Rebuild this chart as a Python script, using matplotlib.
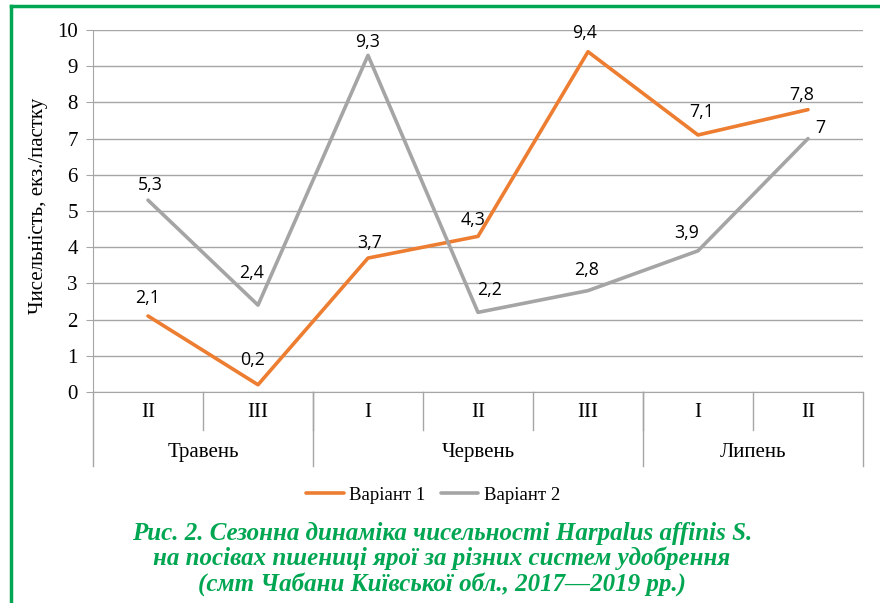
import matplotlib.pyplot as plt

# data
decades = ['II', 'III', 'I', 'II', 'III', 'I', 'II']
months = ['Травень', 'Червень', 'Липень']
month_span = [2, 3, 2]
variant_1 = [2.1, 0.2, 3.7, 4.3, 9.4, 7.1, 7.8]
variant_2 = [5.3, 2.4, 9.3, 2.2, 2.8, 3.9, 7.0]
labels_1 = ['2,1', '0,2', '3,7', '4,3', '9,4', '7,1', '7,8']
labels_2 = ['5,3', '2,4', '9,3', '2,2', '2,8', '3,9', '7']
caption = ('Рис. 2. Сезонна динаміка чисельності Harpalus affinis S.\n'
           'на посівах пшениці ярої за різних систем удобрення\n'
           '(смт Чабани Київської обл., 2017—2019 рр.)')

# label placement, pixels from the marker (x right, y up)
offs_1 = [(0, 18), (-5, 25), (2, 15), (-5, 16), (-3, 19), (4, 23), (-6, 15)]
offs_2 = [(2, 15), (-6, 32), (0, 13), (12, 22), (-1, 21), (-11, 18), (12, 11)]

orange = '#ED7D31'
grey = '#A5A5A5'
green = '#00A651'
axis_col = '#A6A6A6'
serif = 'Liberation Serif'

fig = plt.figure(figsize=(8.8, 6.03), dpi=100)
W, H = 880, 603
ax = fig.add_axes([93 / W, (H - 392) / H, 770 / W, 362 / H])

x = [i + 0.5 for i in range(len(decades))]
ax.plot(x, variant_1, color=orange, lw=2.6, label='Варіант 1', solid_capstyle='round')
ax.plot(x, variant_2, color=grey, lw=2.6, label='Варіант 2', solid_capstyle='round')

for ys, labs, offs in [(variant_1, labels_1, offs_1), (variant_2, labels_2, offs_2)]:
    for xi, yi, lab, (dx, dy) in zip(x, ys, labs, offs):
        ax.annotate(lab, (xi, yi), xytext=(dx, dy), textcoords='offset pixels',
                    ha='center', va='center', fontsize=12.8, family='Open Sans')

ax.set_xlim(0, len(decades))
ax.set_ylim(0, 10)
ax.set_yticks(range(0, 11))
ax.set_yticklabels([str(v) for v in range(0, 11)], family=serif, fontsize=15)
ax.yaxis.grid(True, color=axis_col, lw=1)
ax.set_axisbelow(True)
ax.set_xticks([])
for s in ['top', 'right']:
    ax.spines[s].set_visible(False)
ax.spines['left'].set_color(axis_col)
ax.spines['bottom'].set_color(axis_col)
ax.tick_params(axis='y', length=5, color=axis_col, pad=6)

fig.text(38 / W, 1 - 206 / H, 'Чисельність, екз./пастку', rotation=90, ha='center',
         va='center', family=serif, fontsize=15)

# two-level category axis
tr = ax.get_xaxis_transform()
for i in range(1, len(decades)):
    ax.plot([i, i], [0, -0.105], color=axis_col, lw=1, transform=tr, clip_on=False)
for xi, d in zip(x, decades):
    ax.text(xi, -0.058, d, transform=tr, ha='center', va='center',
            family=serif, fontsize=15)
edges = [0]
for n in month_span:
    edges.append(edges[-1] + n)
for e in edges:
    ax.plot([e, e], [0, -0.204], color=axis_col, lw=1, transform=tr, clip_on=False)
for m, a, b in zip(months, edges[:-1], edges[1:]):
    ax.text((a + b) / 2, -0.168, m, transform=tr, ha='center', va='center',
            family=serif, fontsize=15)

fig.legend(loc='center', bbox_to_anchor=(433 / W, 1 - 495 / H), ncol=2, frameon=False,
           prop={'family': serif, 'size': 13.5}, handlelength=2.0,
           columnspacing=0.8, handletextpad=0.3)

fig.text(442 / W, 1 - 559 / H, caption, ha='center', va='center', color=green,
         family=serif, fontsize=18, weight='bold', style='italic', linespacing=1.1)

# green frame
fig.add_artist(plt.Line2D([11 / W, 11 / W], [0, 1 - 6 / H], color=green, lw=2.5))
fig.add_artist(plt.Line2D([11 / W, 1], [1 - 6 / H, 1 - 6 / H], color=green, lw=2.5))

fig.savefig('out.png', dpi=100)
